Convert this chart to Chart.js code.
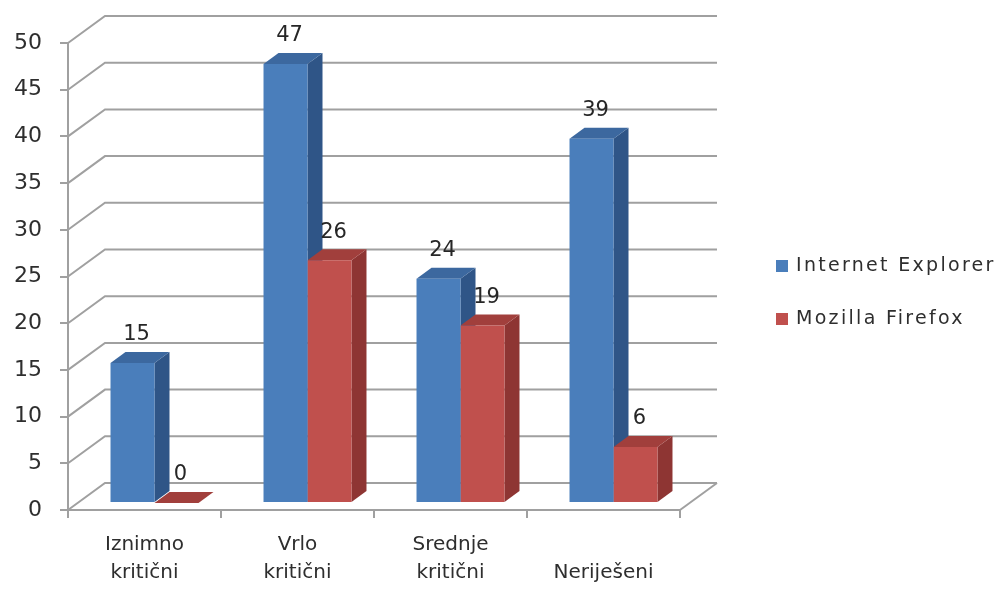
<!DOCTYPE html>
<html>
<head>
<meta charset="utf-8">
<script src="https://cdn.jsdelivr.net/npm/chart.js@4.4.1/dist/chart.umd.min.js"></script>
<style>
  html, body { margin: 0; background: #fff; }
</style>
</head>
<body>
<canvas id="chart" width="1004" height="590"></canvas>
<script>
const categories = [["Iznimno", "kritični"], ["Vrlo", "kritični"], ["Srednje", "kritični"], ["", "Neriješeni"]]
const internetExplorer = [15, 47, 24, 39]
const mozillaFirefox = [0, 26, 19, 6]
const seriesNames = ["Internet Explorer", "Mozilla Firefox"]
const yMax = 50
const yStep = 5

// 3D look: offsets of the back wall, the bar plane and the bar depth
const wall = { dx: 37, dy: -27 }
const plane = { dx: 10, dy: -7 }
const depth = { dx: 15, dy: -11 }

const colors = [
  { front: "#4a7ebb", side: "#2f5587", top: "#3c689f" },
  { front: "#c0504d", side: "#8e3533", top: "#a13f3c" }
]
const gridColor = "#a0a0a0"
const textColor = "#2e2e2e"
const font = "DejaVu Sans"

const threeD = {
  id: "threeD",
  beforeDatasetsDraw(chart) {
    const ctx = chart.ctx
    const ys = chart.scales.y
    const { left, right, bottom } = chart.chartArea

    // back wall + left wall lines
    ctx.save()
    ctx.strokeStyle = gridColor
    ctx.lineWidth = 2
    ys.ticks.forEach(t => {
      const y = ys.getPixelForValue(t.value)
      ctx.beginPath()
      ctx.moveTo(left, y)
      ctx.lineTo(left + wall.dx, y + wall.dy)
      ctx.lineTo(right + wall.dx, y + wall.dy)
      ctx.stroke()
    })
    ctx.beginPath()
    ctx.moveTo(right, bottom)
    ctx.lineTo(right + wall.dx, bottom + wall.dy)
    ctx.stroke()
    ctx.restore()

    // side and top faces, front faces come from chart.js
    ctx.save()
    ctx.translate(plane.dx, plane.dy)
    chart.data.datasets.forEach((ds, i) => {
      const c = colors[i]
      chart.getDatasetMeta(i).data.forEach(bar => {
        const l = bar.x - bar.width / 2
        const r = bar.x + bar.width / 2
        ctx.fillStyle = c.side
        ctx.beginPath()
        ctx.moveTo(r, bar.y)
        ctx.lineTo(r + depth.dx, bar.y + depth.dy)
        ctx.lineTo(r + depth.dx, bar.base + depth.dy)
        ctx.lineTo(r, bar.base)
        ctx.closePath()
        ctx.fill()
        ctx.fillStyle = c.top
        ctx.beginPath()
        ctx.moveTo(l, bar.y)
        ctx.lineTo(l + depth.dx, bar.y + depth.dy)
        ctx.lineTo(r + depth.dx, bar.y + depth.dy)
        ctx.lineTo(r, bar.y)
        ctx.closePath()
        ctx.fill()
      })
    })
  },
  afterDatasetsDraw(chart) {
    const ctx = chart.ctx
    ctx.restore()

    // value labels
    ctx.save()
    ctx.font = "21px '" + font + "'"
    ctx.fillStyle = "#262626"
    ctx.textAlign = "center"
    ctx.textBaseline = "middle"
    chart.data.datasets.forEach((ds, i) => {
      chart.getDatasetMeta(i).data.forEach((bar, j) => {
        ctx.fillText(ds.data[j], bar.x + plane.dx + 4, bar.y + plane.dy - 28)
      })
    })
    ctx.restore()
  },
  afterDraw(chart) {
    // legend
    const ctx = chart.ctx
    ctx.save()
    ctx.font = "19px '" + font + "'"
    ctx.letterSpacing = "2.3px"
    ctx.textBaseline = "middle"
    chart.data.datasets.forEach((ds, i) => {
      const y = 266 + i * 53
      ctx.fillStyle = colors[i].front
      ctx.fillRect(776, y - 6, 12, 12)
      ctx.fillStyle = textColor
      ctx.fillText(ds.label, 796, y)
    })
    ctx.restore()
  }
}

new Chart(document.getElementById("chart"), {
  type: "bar",
  data: {
    labels: categories,
    datasets: [
      { label: seriesNames[0], data: internetExplorer, backgroundColor: colors[0].front, clip: false },
      { label: seriesNames[1], data: mozillaFirefox, backgroundColor: colors[1].front, clip: false }
    ]
  },
  options: {
    responsive: false,
    animation: false,
    layout: { padding: { top: 43, right: 324, left: 0, bottom: 0 } },
    datasets: { bar: { categoryPercentage: 0.575, barPercentage: 1, borderWidth: 0 } },
    plugins: {
      legend: { display: false },
      tooltip: { enabled: false }
    },
    scales: {
      x: {
        grid: { drawOnChartArea: false, tickLength: 8, color: gridColor, lineWidth: 2, offset: true },
        border: { color: gridColor, width: 2 },
        ticks: { color: textColor, font: { family: font, size: 20, lineHeight: 1.4 }, padding: 13, maxRotation: 0 },
        afterFit: s => { s.height = 80 }
      },
      y: {
        min: 0,
        max: yMax,
        ticks: { stepSize: yStep, color: textColor, font: { family: font, size: 22 }, padding: 18 },
        grid: { drawOnChartArea: false, tickLength: 8, color: gridColor, lineWidth: 2 },
        border: { color: gridColor, width: 2 },
        afterFit: s => { s.width = 68 }
      }
    }
  },
  plugins: [threeD]
})
</script>
</body>
</html>
